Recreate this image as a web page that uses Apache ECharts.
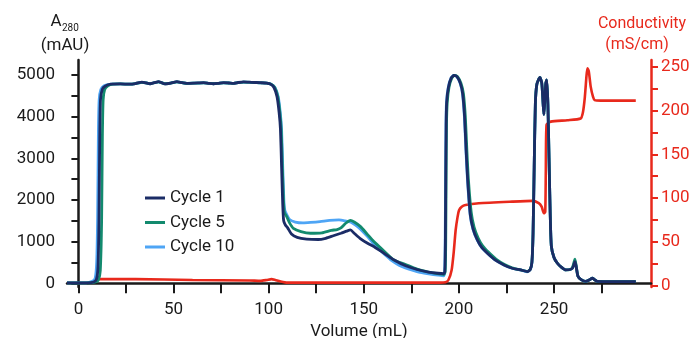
<!DOCTYPE html>
<html>
<head>
<meta charset="utf-8">
<script src="https://cdn.jsdelivr.net/npm/echarts@6/dist/echarts.min.js"></script>
<style>
  html, body { margin: 0; padding: 0; background: #fff; }
  #chart { width: 690px; height: 338px; }
</style>
</head>
<body>
<div id="chart"></div>
<script>
// tick positions and labels
var volTicks = [0, 25, 50, 75, 100, 125, 150, 175, 200, 225, 250, 275];
var volLabels = [0, 50, 100, 150, 200, 250];
var absTicks = [0, 500, 1000, 1500, 2000, 2500, 3000, 3500, 4000, 4500, 5000];
var absLabels = [0, 1000, 2000, 3000, 4000, 5000];
var condTicks = [0, 25, 50, 75, 100, 125, 150, 175, 200, 225, 250];
var condLabels = [0, 50, 100, 150, 200, 250];

var seriesNames = ['Cycle 1', 'Cycle 5', 'Cycle 10'];

// Cycle 1, A280 (mAU) vs volume (mL)
var cycle1Vol = [-6, 5, 8, 9.5, 10.3, 10.8, 11.2, 11.6, 12.5, 14, 17, 22, 27, 30, 33.4, 35.5, 37.7, 40, 42.1, 44, 45.6, 48.5, 51.8, 54.5, 57, 61, 65.8, 68.5, 71, 73.5, 76.3, 79, 81.6, 84, 86.8, 91, 95.6, 99, 101, 102.8, 104.4, 105.5, 106.2, 106.8, 107.4, 107.9, 108.8, 110, 112, 115, 120, 126, 130, 134, 138, 141, 143, 145, 148, 152, 156, 160, 166, 172, 178, 184, 189, 192, 192.6, 192.9, 193.1, 193.3, 193.6, 194.5, 196, 197.4, 199, 200.8, 202, 203, 203.8, 204.6, 206, 207.5, 209.7, 212, 215, 219, 223.7, 228, 232.5, 236, 237.5, 238.4, 239, 239.6, 240.2, 241, 242.6, 243.6, 244.3, 244.7, 245.2, 245.7, 246.2, 246.8, 247.4, 248, 248.6, 250, 251.8, 254, 256.2, 258.5, 259.7, 260.5, 261, 261.6, 262.6, 264.5, 266.7, 268.5, 270.2, 271.5, 272.8, 280, 293];
var cycle1Abs = [10, 10, 30, 100, 400, 1500, 3500, 4400, 4650, 4730, 4780, 4785, 4780, 4795, 4830, 4810, 4790, 4815, 4840, 4810, 4785, 4805, 4840, 4815, 4800, 4805, 4815, 4800, 4790, 4800, 4815, 4808, 4800, 4820, 4835, 4825, 4815, 4805, 4780, 4700, 4480, 4100, 3700, 2800, 1900, 1500, 1400, 1330, 1180, 1100, 1060, 1050, 1080, 1140, 1200, 1250, 1280, 1200, 1080, 960, 860, 740, 560, 420, 330, 270, 240, 230, 280, 1000, 2500, 3800, 4350, 4700, 4930, 4990, 4960, 4800, 4550, 4000, 3200, 2500, 1650, 1300, 1040, 860, 720, 560, 440, 360, 320, 280, 330, 500, 1200, 2800, 4300, 4780, 4940, 4800, 4300, 4050, 4400, 4800, 4880, 4300, 3000, 1700, 900, 620, 480, 380, 320, 330, 360, 450, 520, 420, 170, 80, 45, 80, 120, 80, 45, 40, 40];

// Cycle 5
var cycle5Vol = [-6, 6, 9, 10.5, 11.5, 12.2, 12.6, 13, 13.8, 15.5, 18, 22, 27, 30, 33.4, 35.5, 37.7, 40, 42.1, 44, 45.6, 48.5, 51.8, 54.5, 57, 61, 65.8, 68.5, 71, 73.5, 76.3, 79, 81.6, 84, 86.8, 91, 95.6, 99, 101.3, 103.2, 104.8, 105.9, 106.6, 107.2, 107.8, 108.3, 109.5, 111, 113, 117, 122, 128, 133, 136, 138, 140.5, 143, 145, 148.3, 151.8, 155.3, 160, 165.8, 172, 178, 184, 188, 192, 192.8, 193.1, 193.3, 193.5, 193.9, 194.8, 196.3, 197.7, 199.3, 201.1, 202.4, 203.4, 204.2, 205, 206.5, 208, 210.2, 212.5, 215.5, 219.5, 224, 228, 232.5, 236, 237.5, 238.4, 239, 239.6, 240.2, 241, 242.6, 243.6, 244.3, 244.7, 245.2, 245.7, 246.2, 246.8, 247.4, 248, 248.6, 250, 251.8, 254, 256.2, 258.5, 259.7, 260.5, 261, 261.6, 262.6, 264.5, 266.7, 268.5, 270.2, 271.5, 272.8, 280, 293];
var cycle5Abs = [10, 10, 30, 80, 300, 1500, 3500, 4400, 4650, 4740, 4780, 4785, 4780, 4795, 4825, 4810, 4790, 4815, 4835, 4810, 4790, 4805, 4835, 4815, 4800, 4805, 4812, 4800, 4790, 4800, 4812, 4808, 4800, 4818, 4830, 4825, 4812, 4805, 4780, 4700, 4480, 4100, 3700, 2800, 2000, 1700, 1600, 1450, 1320, 1240, 1200, 1210, 1270, 1290, 1330, 1440, 1510, 1470, 1360, 1180, 1000, 800, 560, 450, 340, 270, 235, 210, 280, 1000, 2500, 3800, 4350, 4700, 4930, 4990, 4960, 4800, 4550, 4000, 3200, 2500, 1700, 1350, 1080, 900, 750, 580, 450, 370, 320, 285, 335, 510, 1200, 2800, 4300, 4780, 4940, 4800, 4300, 4050, 4400, 4800, 4880, 4300, 3000, 1700, 900, 620, 480, 380, 320, 330, 380, 500, 580, 440, 170, 80, 45, 80, 120, 80, 45, 40, 40];

// Cycle 10
var cycle10Vol = [-6, 4, 7, 8.8, 9.6, 10.1, 10.5, 10.9, 11.8, 13.5, 17, 22, 27, 30, 33.4, 35.5, 37.7, 40, 42.1, 44, 45.6, 48.5, 51.8, 54.5, 57, 61, 65.8, 68.5, 71, 73.5, 76.3, 79, 81.6, 84, 86.8, 91, 95.6, 99, 101.3, 103.3, 105, 106.1, 106.8, 107.4, 108, 108.5, 109.5, 111, 114, 118, 122, 127, 132, 137, 140, 143, 145.5, 148, 152, 155.5, 160, 164, 170, 178, 185, 189, 192, 192.5, 192.8, 193, 193.2, 193.5, 194.4, 195.9, 197.3, 198.9, 200.7, 201.9, 202.9, 203.7, 204.5, 205.9, 207.4, 209.6, 212, 215, 219, 223.7, 228, 232.5, 236, 237.5, 238.4, 239, 239.6, 240.2, 241, 242.6, 243.6, 244.3, 244.7, 245.2, 245.7, 246.2, 246.8, 247.4, 248, 248.6, 250, 251.8, 254, 256.2, 258.5, 259.7, 260.5, 261, 261.6, 262.6, 264.5, 266.7, 268.5, 270.2, 271.5, 272.8, 280, 293];
var cycle10Abs = [10, 10, 40, 120, 500, 1600, 3600, 4400, 4650, 4740, 4780, 4785, 4780, 4795, 4825, 4810, 4790, 4815, 4835, 4810, 4790, 4805, 4835, 4815, 4800, 4805, 4812, 4800, 4790, 4800, 4812, 4808, 4800, 4818, 4830, 4825, 4812, 4805, 4780, 4700, 4480, 4100, 3700, 2800, 2000, 1750, 1650, 1530, 1470, 1450, 1460, 1480, 1510, 1520, 1500, 1470, 1400, 1310, 1120, 930, 730, 570, 400, 280, 220, 195, 180, 240, 1000, 2500, 3800, 4350, 4700, 4930, 4990, 4960, 4800, 4550, 4000, 3200, 2500, 1650, 1300, 1040, 860, 720, 560, 440, 360, 320, 275, 325, 490, 1200, 2800, 4300, 4780, 4940, 4800, 4300, 4050, 4400, 4800, 4880, 4300, 3000, 1700, 900, 620, 480, 380, 320, 330, 360, 460, 540, 420, 170, 80, 45, 80, 120, 80, 45, 40, 40];

// Conductivity (mS/cm)
var condVol = [10, 30, 60, 90, 95.6, 99, 101.5, 103.5, 106, 109.7, 130, 160, 190, 193, 194.5, 196.2, 197.3, 198.3, 199.3, 200.1, 201.5, 203.5, 210.5, 228, 238.6, 242, 243.5, 244.7, 245.4, 245.7, 246.1, 248.3, 257, 264, 265.2, 266.2, 267.1, 267.6, 268.3, 269.3, 270.5, 271.4, 274.6, 293];
var condVal = [7, 7, 6, 5.5, 5, 6, 7, 6, 4.5, 3, 3, 3, 3, 3.5, 6, 17.5, 38, 63, 78, 86, 90, 92, 94, 95.8, 96.6, 94, 90, 82.5, 84, 130, 184, 187.4, 189, 191, 198, 215, 240, 248.6, 245, 227.5, 216, 212, 211.5, 211.5];

function zip(xs, ys) {
  return xs.map(function (x, i) { return [x, ys[i]]; });
}

function plain(v) { return String(v); }

var FONT = 'Roboto';
var RED = '#e8291c';
var INK = '#1a1a1a';

var chart = echarts.init(document.getElementById('chart'));

var option = {
  animation: false,
  grid: { left: 67, right: 39, top: 60, bottom: 51, outerBoundsMode: 'none', containLabel: false },
  legend: {
    data: seriesNames,
    orient: 'vertical',
    left: 140,
    top: 183,
    icon: 'rect',
    itemWidth: 20,
    itemHeight: 3,
    itemGap: 4.5,
    textStyle: { fontFamily: FONT, fontSize: 17, color: INK, lineHeight: 20 }
  },
  xAxis: {
    type: 'value',
    min: -6,
    max: 301,
    name: 'Volume (mL)',
    nameLocation: 'middle',
    nameGap: 33,
    nameTextStyle: { fontFamily: FONT, fontSize: 17, color: INK },
    axisLine: { show: true, lineStyle: { color: INK, width: 2.5 } },
    axisTick: { show: true, length: 10, customValues: volTicks, lineStyle: { color: INK, width: 2 } },
    axisLabel: { customValues: volLabels, formatter: plain, fontFamily: FONT, fontSize: 17, color: INK, margin: 14 },
    splitLine: { show: false }
  },
  yAxis: [{
    type: 'value',
    position: 'left',
    min: -90,
    max: 5360,
    axisLine: { show: true, lineStyle: { color: INK, width: 2.5 } },
    axisTick: { show: true, length: 7, customValues: absTicks, lineStyle: { color: INK, width: 2 } },
    axisLabel: { customValues: absLabels, formatter: plain, fontFamily: FONT, fontSize: 17, color: INK, margin: 12 },
    splitLine: { show: false }
  }, {
    type: 'value',
    position: 'right',
    min: -2,
    max: 258,
    axisLine: { show: true, lineStyle: { color: RED, width: 2.5 } },
    axisTick: { show: true, length: 7, customValues: condTicks, lineStyle: { color: RED, width: 2 } },
    axisLabel: { customValues: condLabels, formatter: plain, fontFamily: FONT, fontSize: 17, color: RED, margin: 10 },
    splitLine: { show: false }
  }],
  graphic: [
    { type: 'text', x: 50.5, y: 22, style: { text: 'A', fontFamily: FONT, fontSize: 17, fill: INK, align: 'left', verticalAlign: 'middle' } },
    { type: 'text', x: 62, y: 28.5, style: { text: '280', fontFamily: FONT, fontSize: 10, fill: INK, align: 'left', verticalAlign: 'middle' } },
    { type: 'text', x: 65, y: 46, style: { text: '(mAU)', fontFamily: FONT, fontSize: 17, fill: INK, align: 'center', verticalAlign: 'middle' } },
    { type: 'text', x: 642, y: 23.5, style: { text: 'Conductivity', fontFamily: FONT, fontSize: 16, fill: RED, align: 'center', verticalAlign: 'middle' } },
    { type: 'text', x: 637, y: 45, style: { text: '(mS/cm)', fontFamily: FONT, fontSize: 16, fill: RED, align: 'center', verticalAlign: 'middle' } }
  ],
  series: [{
    name: 'Conductivity',
    type: 'line',
    yAxisIndex: 1,
    data: zip(condVol, condVal),
    showSymbol: false,
    smooth: 0.2,
    lineStyle: { color: RED, width: 2.6 },
    z: 1
  }, {
    name: 'Cycle 10',
    type: 'line',
    data: zip(cycle10Vol, cycle10Abs),
    showSymbol: false,
    smooth: 0.2,
    color: '#4ea5f5',
    lineStyle: { width: 2.8 },
    z: 2
  }, {
    name: 'Cycle 5',
    type: 'line',
    data: zip(cycle5Vol, cycle5Abs),
    showSymbol: false,
    smooth: 0.2,
    color: '#138a6e',
    lineStyle: { width: 2.8 },
    z: 3
  }, {
    name: 'Cycle 1',
    type: 'line',
    data: zip(cycle1Vol, cycle1Abs),
    showSymbol: false,
    smooth: 0.2,
    color: '#1b2c66',
    lineStyle: { width: 2.8 },
    z: 4
  }]
};

chart.setOption(option);
</script>
</body>
</html>
